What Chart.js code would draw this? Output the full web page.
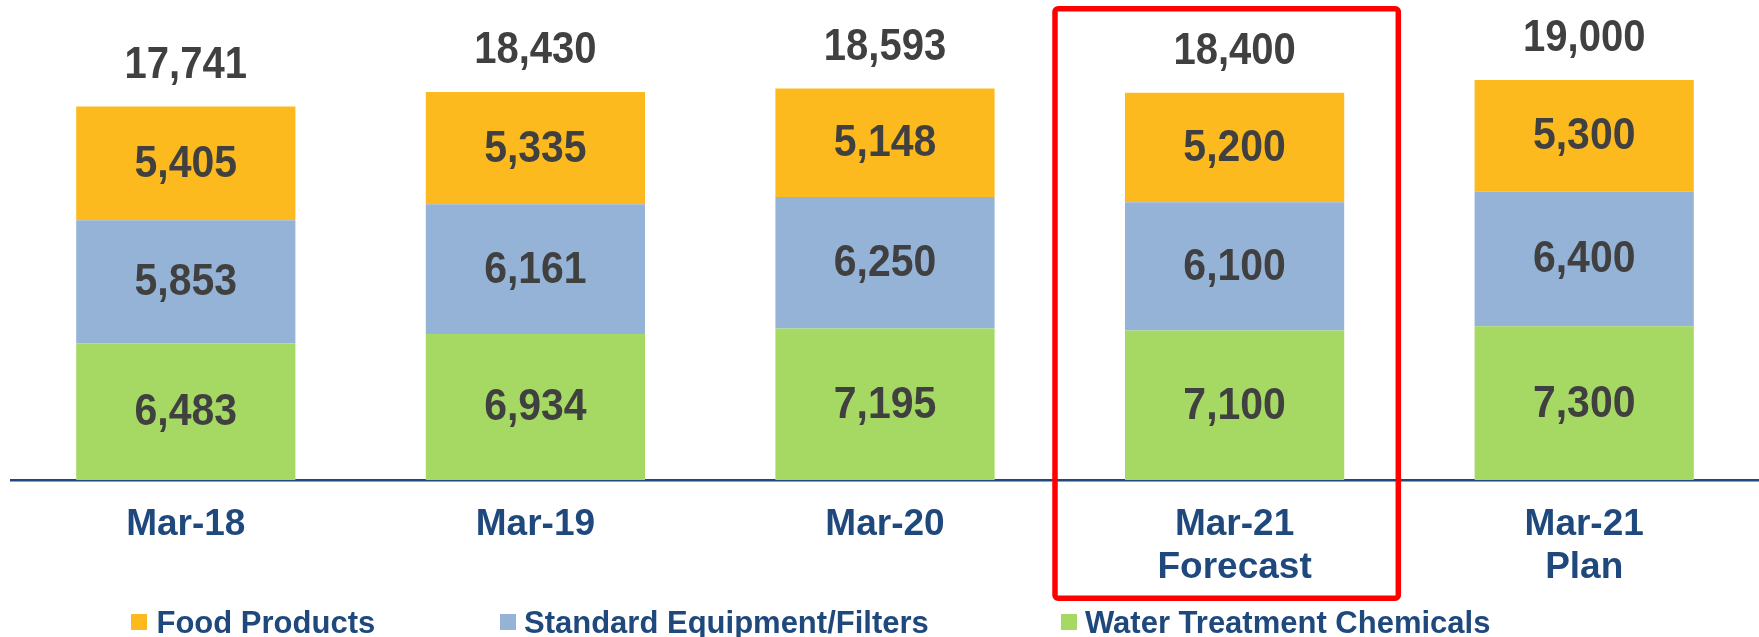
<!DOCTYPE html>
<html><head><meta charset="utf-8">
<script src="https://cdn.jsdelivr.net/npm/chart.js@4/dist/chart.umd.min.js"></script>
<style>html,body{margin:0;padding:0;background:#fff;overflow:hidden}#wrap{width:1759px;height:637px}</style>
</head><body><div id="wrap"><canvas id="c" width="1759" height="637"></canvas></div>
<script>
const categories = [["Mar-18"], ["Mar-19"], ["Mar-20"], ["Mar-21", "Forecast"], ["Mar-21", "Plan"]];
const waterTreatment = [6483, 6934, 7195, 7100, 7300];
const standardEquipment = [5853, 6161, 6250, 6100, 6400];
const foodProducts = [5405, 5335, 5148, 5200, 5300];
const totals = [17741, 18430, 18593, 18400, 19000];
const seriesNames = { food: "Food Products", standard: "Standard Equipment/Filters", water: "Water Treatment Chemicals" };
const legendOrder = ["Food Products", "Standard Equipment/Filters", "Water Treatment Chemicals"];
const highlightIndex = 3;

const FONT = '"Liberation Sans", Arial, sans-serif';
const fmt = v => v.toLocaleString('en-US');

function condensedText(ctx, text, x, y, sx) {
  ctx.save();
  ctx.translate(x, y);
  ctx.scale(sx, 1);
  ctx.fillText(text, 0, 0);
  ctx.restore();
}

const valueLabels = {
  id: 'valueLabels',
  afterDatasetsDraw(chart) {
    const ctx = chart.ctx;
    ctx.save();
    ctx.fillStyle = '#404040';
    ctx.textAlign = 'center';
    ctx.textBaseline = 'middle';
    ctx.font = 'bold 45px ' + FONT;
    chart.data.datasets.forEach((ds, di) => {
      const meta = chart.getDatasetMeta(di);
      meta.data.forEach((el, i) => {
        condensedText(ctx, fmt(ds.data[i]), el.x, (el.y + el.base) / 2 + 1, 0.91);
      });
    });
    ctx.font = 'bold 43.5px ' + FONT;
    const last = chart.getDatasetMeta(chart.data.datasets.length - 1);
    last.data.forEach((el, i) => {
      condensedText(ctx, fmt(totals[i]), el.x, el.y - 41, 0.92);
    });
    ctx.restore();
  }
};

const highlightBox = {
  id: 'highlightBox',
  afterDraw(chart) {
    const x = chart.scales.x;
    const cx = x.getPixelForValue(highlightIndex);
    const ctx = chart.ctx;
    ctx.save();
    ctx.strokeStyle = '#FF0000';
    ctx.lineWidth = 5.5;
    ctx.lineJoin = 'round';
    ctx.beginPath();
    ctx.roundRect(cx - 179.6, 8.8, 343.3, 589.5, 3);
    ctx.stroke();
    ctx.restore();
  }
};

const customLegend = {
  id: 'customLegend',
  afterDraw(chart) {
    const ctx = chart.ctx;
    const markerX = [131, 500, 1061];
    const textX = [156.5, 524, 1085];
    ctx.save();
    ctx.font = 'bold 31px ' + FONT;
    ctx.textBaseline = 'alphabetic';
    ctx.textAlign = 'left';
    legendOrder.forEach((name, k) => {
      const ds = chart.data.datasets.find(d => d.label === name);
      ctx.fillStyle = ds.backgroundColor;
      ctx.fillRect(markerX[k], 614, 16, 16);
      ctx.fillStyle = '#1F497D';
      ctx.fillText(name, textX[k], 632.5);
    });
    ctx.restore();
  }
};

new Chart(document.getElementById('c'), {
  type: 'bar',
  data: {
    labels: categories,
    datasets: [
      { label: seriesNames.water, data: waterTreatment, backgroundColor: '#A6D864' },
      { label: seriesNames.standard, data: standardEquipment, backgroundColor: '#95B3D7' },
      { label: seriesNames.food, data: foodProducts, backgroundColor: '#FDBA1F' }
    ]
  },
  options: {
    responsive: false,
    animation: false,
    devicePixelRatio: 1,
    layout: { padding: { top: 59, left: 11, right: 0, bottom: 0 } },
    datasets: { bar: { categoryPercentage: 1, barPercentage: 0.627 } },
    plugins: { legend: { display: false }, tooltip: { enabled: false } },
    scales: {
      x: {
        stacked: true,
        grid: { display: false, drawTicks: false },
        border: { display: true, color: '#1F497D', width: 2.5 },
        ticks: { color: '#1F497D', font: { family: FONT, size: 37, weight: 'bold', lineHeight: 1.15 }, padding: 24, maxRotation: 0, autoSkip: false },
        afterFit(scale) { scale.height = 157; }
      },
      y: {
        stacked: true, display: false, min: 0, max: 20000
      }
    }
  },
  plugins: [valueLabels, highlightBox, customLegend]
});
</script></body></html>
